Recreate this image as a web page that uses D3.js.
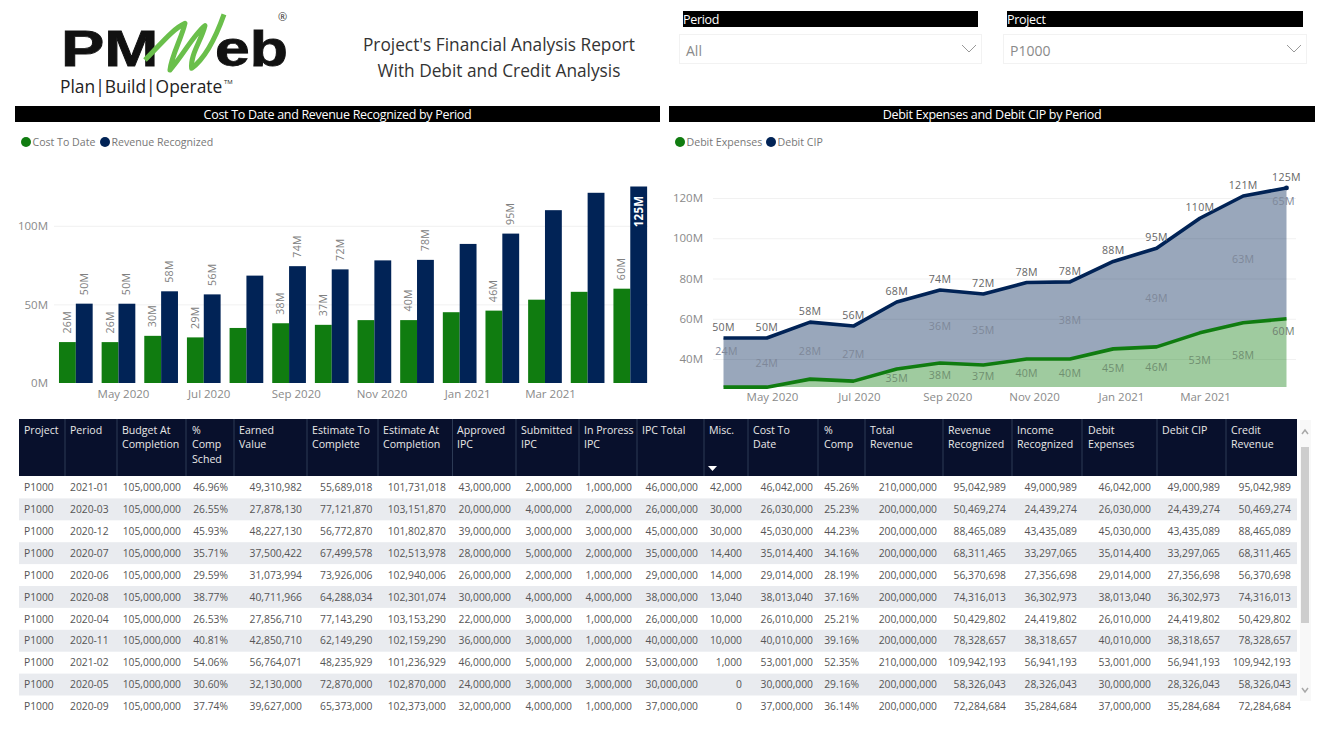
<!DOCTYPE html>
<html>
<head>
<meta charset="utf-8">
<title>Project's Financial Analysis Report</title>
<script src="https://cdn.jsdelivr.net/npm/d3@7"></script>
<style>
  html, body { margin: 0; padding: 0; background: #fff; overflow: hidden; }
  svg { display: block; font-family: "Open Sans", sans-serif; }
  .axis text { font-size: 11.5px; fill: #8a8a8a; font-family: "Open Sans", sans-serif; }
  .axis path, .axis line { display: none; }
  .grid line { stroke: #f1f1f1; }
  .grid path, .grid text { display: none; }
  .value { font-size: 10.6px; fill: #808080; letter-spacing: 0.3px; }
  .legend { font-size: 10.6px; fill: #777; }
  .cell { font-size: 10.3px; fill: #555; }
  .head { font-size: 10.6px; fill: #e8e8e8; }
</style>
</head>
<body>
<div id="chart"></div>
<script>
// chart data
const periods = ["2020-03", "2020-04", "2020-05", "2020-06", "2020-07", "2020-08", "2020-09",
  "2020-10", "2020-11", "2020-12", "2021-01", "2021-02", "2021-03", "2021-04"];
const costToDate = [26.03, 26.01, 30, 29.01, 35.01, 38.01, 37, 40, 40.01, 45.03, 46.04, 53, 58, 60];
const revenueRecognized = [50.47, 50.43, 58.33, 56.37, 68.31, 74.32, 72.28, 78, 78.33, 88.47, 95.04, 109.94, 121, 125];
const debitExpenses = costToDate;
const debitCip = [24.44, 24.42, 28.33, 27.36, 33.3, 36.3, 35.28, 38, 38.32, 43.44, 49, 56.94, 63, 65];
const xTickMonths = ["2020-05", "2020-07", "2020-09", "2020-11", "2021-01", "2021-03"];
const barTicks = [0, 50, 100];
const areaTicks = [40, 60, 80, 100, 120];
// periods that power bi left without a label
const barHidden = ["2020-07", "2020-10", "2020-12", "2021-02", "2021-03"];
const cipHidden = ["2020-07", "2020-10", "2020-12", "2021-02"];
const expHidden = ["2020-03", "2020-04", "2020-05", "2020-06"];

// table data
const rowProject = d3.range(11).map(() => "P1000");
const rowPeriod = ["2021-01", "2020-03", "2020-12", "2020-07", "2020-06", "2020-08", "2020-04", "2020-11", "2021-02", "2020-05", "2020-09"];
const budget = d3.range(11).map(() => 105000000);
const compSched = [46.96, 26.55, 45.93, 35.71, 29.59, 38.77, 26.53, 40.81, 54.06, 30.6, 37.74];
const earned = [49310982, 27878130, 48227130, 37500422, 31073994, 40711966, 27856710, 42850710, 56764071, 32130000, 39627000];
const estToComplete = [55689018, 77121870, 56772870, 67499578, 73926006, 64288034, 77143290, 62149290, 48235929, 72870000, 65373000];
const estAtCompletion = [101731018, 103151870, 101802870, 102513978, 102940006, 102301074, 103153290, 102159290, 101236929, 102870000, 102373000];
const approved = [43000000, 20000000, 39000000, 28000000, 26000000, 30000000, 22000000, 36000000, 46000000, 24000000, 32000000];
const submitted = [2000000, 4000000, 3000000, 5000000, 2000000, 4000000, 3000000, 3000000, 5000000, 3000000, 4000000];
const inProgress = [1000000, 2000000, 3000000, 2000000, 1000000, 4000000, 1000000, 1000000, 2000000, 3000000, 1000000];
const ipcTotal = [46000000, 26000000, 45000000, 35000000, 29000000, 38000000, 26000000, 40000000, 53000000, 30000000, 37000000];
const misc = [42000, 30000, 30000, 14400, 14000, 13040, 10000, 10000, 1000, 0, 0];
const cost = [46042000, 26030000, 45030000, 35014400, 29014000, 38013040, 26010000, 40010000, 53001000, 30000000, 37000000];
const comp = [45.26, 25.23, 44.23, 34.16, 28.19, 37.16, 25.21, 39.16, 52.35, 29.16, 36.14];
const totalRevenue = [210000000, 200000000, 200000000, 200000000, 200000000, 200000000, 200000000, 200000000, 210000000, 200000000, 200000000];
const revenue = [95042989, 50469274, 88465089, 68311465, 56370698, 74316013, 50429802, 78328657, 109942193, 58326043, 72284684];
const income = [49000989, 24439274, 43435089, 33297065, 27356698, 36302973, 24419802, 38318657, 56941193, 28326043, 35284684];

const GREEN = "#107c10", NAVY = "#012356";
const num = d3.format(",");
const pct = (v) => v.toFixed(2) + "%";
const str = (v) => v;
const millions = (v) => Math.round(v) + "M";
const parseMonth = d3.timeParse("%Y-%m");

const svg = d3.select("#chart").append("svg").attr("width", 1327).attr("height", 732);

drawLogo();
drawSlicer("Period", "All", 683, 978);
drawSlicer("Project", "P1000", 1007, 1303);
drawTitleBar("Cost To Date and Revenue Recognized by Period", 15, 660);
drawTitleBar("Debit Expenses and Debit CIP by Period", 669, 1315);
drawLegend([["Cost To Date", GREEN, 26], ["Revenue Recognized", NAVY, 105]]);
drawLegend([["Debit Expenses", GREEN, 680], ["Debit CIP", NAVY, 771]]);
drawBars();
drawArea();
drawTable();

function drawLogo() {
  const g = svg.append("g");
  [["PM", 61, 1.3], ["eb", 215, 1.25]].forEach(([word, px, sx]) => {
    g.append("text").attr("transform", `translate(${px},66) scale(${sx},1)`)
      .attr("font-family", "Liberation Sans").attr("font-weight", 700).attr("font-size", 50)
      .attr("fill", "#111").attr("stroke", "#111").attr("stroke-width", 0.8).text(word);
  });
  g.append("path").attr("transform", "translate(50,5) scale(0.3333)")
    .attr("d", "M285,165 C330,120 370,70 405,55 C395,100 365,150 360,195 C400,150 430,90 465,62 C455,105 420,150 425,190 C465,160 500,90 522,28")
    .attr("fill", "none").attr("stroke", "#6abf4b").attr("stroke-width", 15).attr("stroke-linejoin", "round");
  g.append("text").attr("x", 278).attr("y", 21).attr("font-size", 11).attr("fill", "#333").text("®");
  g.append("text").attr("x", 60).attr("y", 93).attr("font-size", 17.4).attr("fill", "#222").text("Plan|Build|Operate");
  g.append("text").attr("x", 224).attr("y", 84).attr("font-size", 6).attr("fill", "#222").text("TM");
  svg.selectAll("text.report").data(["Project's Financial Analysis Report", "With Debit and Credit Analysis"])
    .enter().append("text").attr("class", "report")
    .attr("x", 499).attr("y", (d, i) => 51 + i * 26)
    .attr("text-anchor", "middle").attr("font-size", 17.3).attr("fill", "#333").text((d) => d);
}

function drawSlicer(label, value, x0, x1) {
  svg.append("rect").attr("x", x0).attr("y", 11).attr("width", x1 - x0).attr("height", 16).attr("fill", "#000");
  svg.append("text").attr("x", x0).attr("y", 24).attr("font-size", 12.5).attr("letter-spacing", -0.3).attr("fill", "#fff").text(label);
  svg.append("rect").attr("x", x0 - 3.5).attr("y", 34.5).attr("width", x1 - x0 + 7).attr("height", 29)
    .attr("fill", "none").attr("stroke", "#f2f2f2");
  svg.append("text").attr("x", x0 + 3).attr("y", 56).attr("font-size", 14).attr("fill", "#8a8a8a").text(value);
  svg.append("path").attr("d", `M${x1 - 16},45 l7,7 l7,-7`).attr("fill", "none").attr("stroke", "#999");
}

function drawTitleBar(label, x0, x1) {
  svg.append("rect").attr("x", x0).attr("y", 106).attr("width", x1 - x0).attr("height", 16).attr("fill", "#000");
  svg.append("text").attr("x", (x0 + x1) / 2).attr("y", 119).attr("text-anchor", "middle")
    .attr("font-size", 12.5).attr("letter-spacing", -0.3).attr("fill", "#fff").text(label);
}

function drawLegend(items) {
  items.forEach(([label, color, x]) => {
    svg.append("circle").attr("cx", x).attr("cy", 142).attr("r", 5).attr("fill", color);
    svg.append("text").attr("class", "legend").attr("x", x + 6.5).attr("y", 146).text(label);
  });
}

function drawBars() {
  const x = d3.scaleBand().domain(periods).range([54.5, 651.6]).paddingInner(0.21).paddingOuter(0.105);
  const xSeries = d3.scaleBand().domain([0, 1]).range([0, x.bandwidth()]);
  const y = d3.scaleLinear().domain([0, 125]).range([383, 186.5]);
  const xTicks = d3.scaleTime().domain([parseMonth("2020-05"), parseMonth("2021-03")]).range([123, 550]);

  svg.append("g").attr("class", "grid").attr("transform", "translate(54,0)")
    .call(d3.axisRight(y).tickValues(barTicks.slice(1)).tickSize(594));
  svg.append("g").attr("class", "axis").attr("transform", "translate(54,0)")
    .call(d3.axisLeft(y).tickValues(barTicks).tickSize(0).tickPadding(6).tickFormat((d) => d + "M"));
  svg.append("g").attr("class", "axis").attr("transform", "translate(0,383)")
    .call(d3.axisBottom(xTicks).tickValues(xTickMonths.map(parseMonth)).tickSize(0).tickPadding(7)
      .tickFormat(d3.timeFormat("%b %Y")));

  [[costToDate, GREEN], [revenueRecognized, NAVY]].forEach(([values, color], s) => {
    svg.append("g").selectAll("rect").data(values).enter().append("rect")
      .attr("x", (d, i) => x(periods[i]) + xSeries(s))
      .attr("width", xSeries.bandwidth())
      .attr("y", (d) => y(d))
      .attr("height", (d) => y(0) - y(d))
      .attr("fill", color);

    const labelled = periods.filter((p) => !barHidden.includes(p));
    svg.append("g").selectAll("text").data(labelled).enter().append("text")
      .attr("class", "value")
      .attr("transform", (p) => {
        const d = values[periods.indexOf(p)];
        return `translate(${x(p) + xSeries(s) + xSeries.bandwidth() / 2 + 3.5},${y(d) - 8.5}) rotate(-90)`;
      })
      .text((p) => millions(values[periods.indexOf(p)]));
  });
  // the top value sits inside its bar
  const last = periods[periods.length - 1];
  svg.selectAll("text.value").filter((p) => p === last)
    .filter(function () { return this.textContent === millions(revenueRecognized[periods.length - 1]); })
    .attr("transform", `translate(${x(last) + xSeries(1) + xSeries.bandwidth() / 2 + 4.5},${y(revenueRecognized[periods.length - 1]) + 9}) rotate(-90)`)
    .attr("text-anchor", "end")
    .style("fill", "#fff").style("font-weight", 700).style("font-size", "11.5px");
}

function drawArea() {
  const x = d3.scalePoint().domain(periods).range([723.5, 1286.5]);
  const y = d3.scaleLinear().domain([40, 120]).range([359, 198]);
  const base = y.invert(387);
  const xTicks = d3.scaleTime().domain([parseMonth("2020-05"), parseMonth("2021-03")]).range([772, 1205]);

  svg.append("g").attr("class", "grid").attr("transform", "translate(713,0)")
    .call(d3.axisRight(y).tickValues(areaTicks).tickSize(583));
  svg.append("g").attr("class", "axis").attr("transform", "translate(706,0)")
    .call(d3.axisLeft(y).tickValues(areaTicks).tickSize(0).tickPadding(3).tickFormat((d) => d + "M"));
  svg.append("g").attr("class", "axis").attr("transform", "translate(0,386)")
    .call(d3.axisBottom(xTicks).tickValues(xTickMonths.map(parseMonth)).tickSize(0).tickPadding(7)
      .tickFormat(d3.timeFormat("%b %Y")));

  const table = periods.map((p, i) => ({ period: p, exp: debitExpenses[i], cip: debitCip[i] }));
  const stacked = d3.stack().keys(["exp", "cip"])(table);
  const colors = [GREEN, NAVY];

  const area = d3.area().x((d) => x(d.data.period)).y0((d) => y(Math.max(d[0], base))).y1((d) => y(d[1]));
  const line = d3.line().x((d) => x(d.data.period)).y((d) => y(d[1]));

  svg.append("g").selectAll("path").data(stacked).enter().append("path")
    .attr("d", area).attr("fill", (d, i) => colors[i]).attr("fill-opacity", 0.4);
  svg.append("g").selectAll("path").data(stacked).enter().append("path")
    .attr("d", line).attr("fill", "none").attr("stroke-width", 3.6).attr("stroke-linejoin", "round")
    .attr("stroke", (d, i) => colors[i]);
  svg.append("circle").attr("cx", x(periods[13])).attr("cy", y(stacked[1][13][1])).attr("r", 2.4).attr("fill", NAVY);

  const lastP = periods[periods.length - 1];
  const firstP = periods[0];

  // total on top of the line
  svg.append("g").selectAll("text").data(stacked[1]).enter().append("text")
    .attr("class", "value").attr("text-anchor", "middle").style("fill", "#666")
    .attr("x", (d) => x(d.data.period))
    .attr("y", (d) => y(d[1]) - 7)
    .text((d) => millions(d[1]));

  // debit cip, middle of its band
  svg.append("g").selectAll("text").data(stacked[1].filter((d) => !cipHidden.includes(d.data.period))).enter().append("text")
    .attr("class", "value").attr("text-anchor", "middle").style("fill", "#7e8799")
    .attr("x", (d) => x(d.data.period) + (d.data.period === firstP ? 3 : d.data.period === lastP ? -3 : 0))
    .attr("y", (d) => {
      if (d.data.period === lastP) return y(d[1]) + 17;
      if (d.data.period === firstP) return y((d[0] + d[1]) / 2) - 8;
      return y((d[0] + d[1]) / 2) + 4;
    })
    .text((d) => millions(d.data.cip));

  // debit expenses, middle of the green band
  svg.append("g").selectAll("text").data(stacked[0].filter((d) => !expHidden.includes(d.data.period))).enter().append("text")
    .attr("class", "value").attr("text-anchor", "middle")
    .style("fill", (d) => d.data.period === lastP ? "#6f7f6f" : "#6f8f70")
    .attr("x", (d) => x(d.data.period) - (d.data.period === lastP ? 3 : 0))
    .attr("y", (d) => d.data.period === lastP ? y(d[1]) + 16 : y((base + d[1]) / 2) + 4)
    .text((d) => millions(d[1]));
}

function drawTable() {
  // name lines, values, format, left text edge, right text edge (null = left aligned), column start
  const columns = [
    [["Project"], rowProject, str, 24, null, 19],
    [["Period"], rowPeriod, str, 70, null, 65],
    [["Budget At", "Completion"], budget, num, 122, 181, 117],
    [["%", "Comp", "Sched"], compSched, pct, 192, 228, 186],
    [["Earned", "Value"], earned, num, 239, 302, 234],
    [["Estimate To", "Complete"], estToComplete, num, 312, 372.5, 307],
    [["Estimate At", "Completion"], estAtCompletion, num, 383, 446, 378],
    [["Approved", "IPC"], approved, num, 457, 511, 452.5],
    [["Submitted", "IPC"], submitted, num, 521, 572, 516],
    [["In Proress", "IPC"], inProgress, num, 584, 632, 579],
    [["IPC Total"], ipcTotal, num, 642, 698, 637],
    [["Misc."], misc, num, 709, 742, 704],
    [["Cost To", "Date"], cost, num, 753, 813, 748],
    [["%", "Comp"], comp, pct, 824, 859, 818],
    [["Total", "Revenue"], totalRevenue, num, 870, 937, 865],
    [["Revenue", "Recognized"], revenue, num, 948, 1006, 943],
    [["Income", "Recognized"], income, num, 1017, 1077, 1012],
    [["Debit", "Expenses"], cost, num, 1088, 1151, 1082],
    [["Debit CIP"], income, num, 1162, 1220, 1157],
    [["Credit", "Revenue"], revenue, num, 1231, 1291, 1226]
  ];
  const rowY = d3.scaleBand().domain(d3.range(rowPeriod.length)).range([476.5, 717.4]);

  svg.append("rect").attr("x", 1300).attr("y", 420).attr("width", 11).attr("height", 281).attr("fill", "#f8f8f8");
  svg.append("rect").attr("x", 1301).attr("y", 447).attr("width", 8).attr("height", 176).attr("fill", "#cdcdcd");
  svg.append("path").attr("d", "M1302,434 l3,-4 l3,4").attr("fill", "none").attr("stroke", "#a8a8a8").attr("stroke-width", 1.5);
  svg.append("path").attr("d", "M1302,688 l3,4 l3,-4").attr("fill", "none").attr("stroke", "#a8a8a8").attr("stroke-width", 1.5);

  svg.append("rect").attr("x", 19).attr("y", 419).attr("width", 1278).attr("height", 57).attr("fill", "#08102c");
  svg.append("g").selectAll("rect").data(rowY.domain().filter((d) => d % 2 === 1)).enter().append("rect")
    .attr("x", 19).attr("width", 1278)
    .attr("y", (d) => rowY(d)).attr("height", rowY.bandwidth())
    .attr("fill", "#e9ebef");

  columns.forEach(([name, values, fmt, left, right, start], c) => {
    if (c > 0) {
      svg.append("line").attr("x1", start).attr("x2", start).attr("y1", 419).attr("y2", 476)
        .attr("stroke", "#2c3a55").attr("stroke-width", 1);
    }
    svg.append("g").selectAll("text").data(name).enter().append("text")
      .attr("class", "head").attr("x", left).attr("y", (d, i) => 434 + i * 14.3).text((d) => d);
    svg.append("g").selectAll("text").data(values).enter().append("text")
      .attr("class", "cell")
      .attr("x", right === null ? left : right)
      .attr("text-anchor", right === null ? "start" : "end")
      .attr("y", (d, i) => rowY(i) + rowY.bandwidth() / 2 + 3.7)
      .text((d) => fmt(d));
  });
  svg.append("path").attr("d", "M708,466 h9 l-4.5,5 z").attr("fill", "#fff");
}
</script>
</body>
</html>
